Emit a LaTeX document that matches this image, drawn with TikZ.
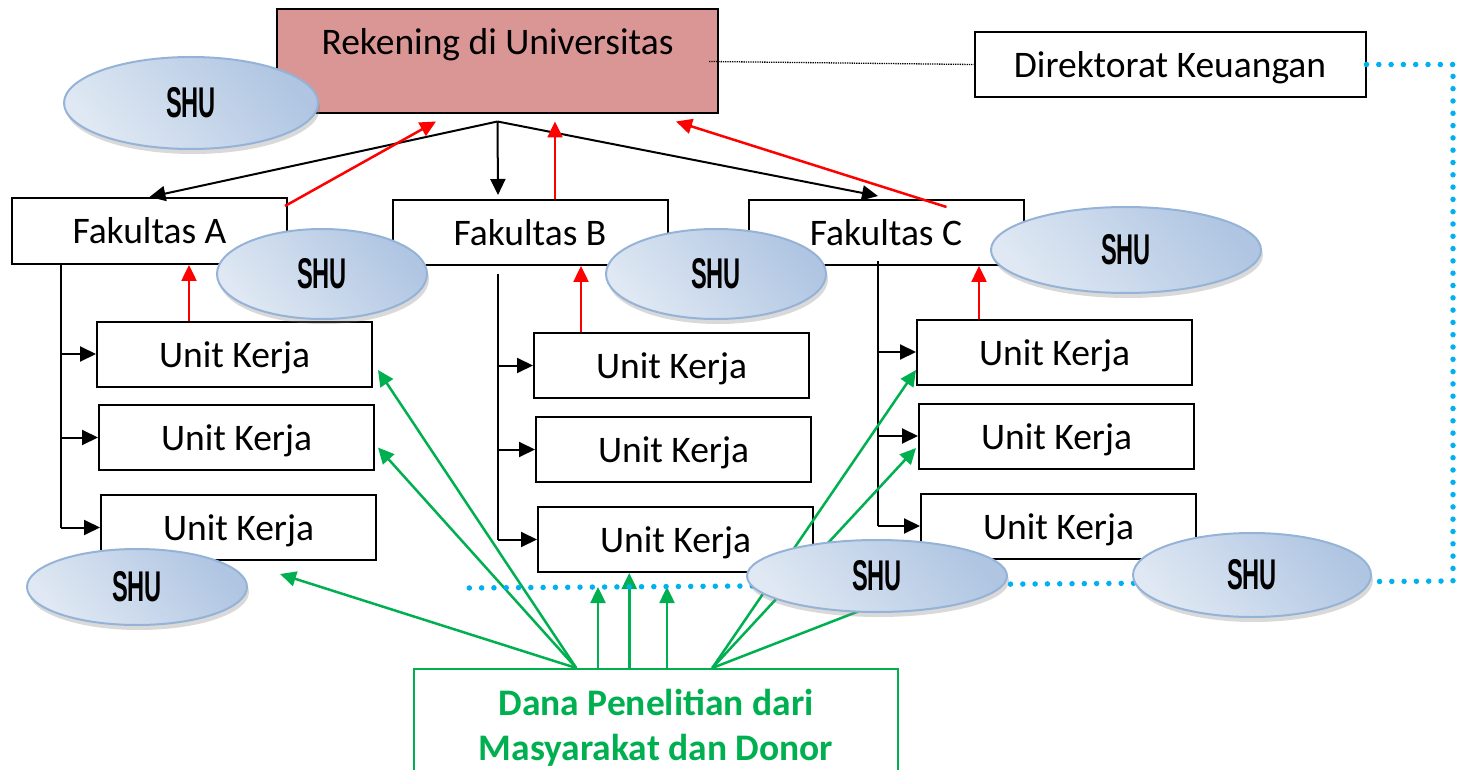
\documentclass[tikz,border=0pt]{standalone}
\usepackage{fontspec}
\setmainfont{Carlito}
\newfontfamily\shufont{Liberation Sans}
\usetikzlibrary{arrows.meta,calc,shapes.geometric,shadows}
\definecolor{rekfill}{HTML}{D99694}
\definecolor{shuline}{HTML}{95B3D7}
\definecolor{shulight}{HTML}{DFE8F3}
\definecolor{shudark}{HTML}{AFC5E2}
\definecolor{danagreen}{HTML}{00B050}
\definecolor{dotblue}{HTML}{00B0F0}
\tikzset{plainbox/.style={draw, line width=2pt, minimum width=275pt, minimum height=65pt, inner sep=0pt, text height=32pt, text depth=6pt, font=\fontsize{37.5}{45}\selectfont}}
\tikzset{shu/.style={ellipse, draw=shuline, line width=2pt, left color=shulight, right color=shudark, shading angle=130, inner sep=0pt, drop shadow={shadow xshift=2pt, shadow yshift=-5pt, opacity=0.3}, font=\shufont\bfseries\fontsize{43}{45}\selectfont}}
\tikzset{arr/.style={draw, -{Triangle[length=16pt,width=15pt]}, line width=2pt}}
\tikzset{redarr/.style={arr, red, line width=2.5pt}}
\tikzset{grnarr/.style={arr, danagreen, line width=2.5pt}}
\tikzset{bluedots/.style={dotblue, line width=5.5pt, line cap=round, dash pattern=on 0pt off 12.3pt}}
\newcommand{\shutext}{\scalebox{0.55}[1]{SHU}}

\begin{document}
\begin{tikzpicture}[x=1pt,y=-1pt]
	\useasboundingbox (0,0) rectangle (1460,770);
	\clip (0,0) rectangle (1460,770);
	
	\node[plainbox, fill=rekfill, minimum width=441pt, minimum height=104pt, text height=24pt, text depth=37pt] (Rek) at (497.5,61.5){Rekening di Universitas};
	\node[plainbox, minimum width=391pt] (Dk) at (1170,64.5){Direktorat Keuangan};
	
	\node[plainbox, minimum height=66pt] (FA) at (149.5,231){Fakultas A};
	\node[plainbox] (FB) at (530,232.5){Fakultas B};
	\node[plainbox] (FC) at (886,232.5){Fakultas C};
	
	\node[plainbox] (UA1) at (234.5,354){Unit Kerja};
	\node[plainbox] (UA2) at (236.5,437.5){Unit Kerja};
	\node[plainbox] (UA3) at (238.5,527.5){Unit Kerja};
	\node[plainbox] (UB1) at (671.5,365.5){Unit Kerja};
	\node[plainbox] (UB2) at (673.5,449.5){Unit Kerja};
	\node[plainbox] (UB3) at (675.5,539.5){Unit Kerja};
	\node[plainbox] (UC1) at (1054.5,352){Unit Kerja};
	\node[plainbox] (UC2) at (1056.5,436){Unit Kerja};
	\node[plainbox] (UC3) at (1058.5,526){Unit Kerja};
	
	\node[plainbox, draw=danagreen, line width=1.5pt, text=danagreen, text height=, text depth=, font=\bfseries\fontsize{37.5}{45}\selectfont, align=center, anchor=north, minimum width=484pt, inner ysep=20pt] (Dana) at (656,668){Dana Penelitian dari\\Masyarakat dan Donor};
	
	% Rekening ke fakultas
	\coordinate (apex) at ($(Rek.south)+(0,7)$);
	\coordinate (ta) at (61,0);
	\coordinate (tb) at (498,0);
	\coordinate (tc) at (878,0);
	\draw[arr] (apex) -- (FA.north);
	\draw[arr] (apex) -- ($(tb |- FB.north)+(0,-4)$);
	\draw[arr] (apex) -- ($(tc |- FC.north)+(0,-3)$);
	\draw[densely dotted, line width=1.3pt] ($(Rek.east)+(-10,0)$) -- (Dk.west);
	
	% fakultas ke unit kerja
	\draw[line width=2pt] (FA.south -| ta) -- (UA3.west -| ta);
	\draw[line width=2pt] ($(FB.south -| tb)+(0,8)$) -- (UB3.west -| tb);
	\draw[line width=2pt] ($(FC.south -| tc)+(0,-5)$) -- (UC3.west -| tc);
	\foreach \u in {UA1,UA2,UA3} \draw[arr] (\u.west -| ta) -- (\u.west);
	\foreach \u in {UB1,UB2,UB3} \draw[arr] (\u.west -| tb) -- (\u.west);
	\foreach \u in {UC1,UC2,UC3} \draw[arr] (\u.west -| tc) -- (\u.west);
	
	% aliran SHU
	\coordinate (ra) at (189,0);
	\coordinate (rb) at (581,0);
	\coordinate (rc) at (979,0);
	\draw[redarr] (UA1.north -| ra) -- (FA.south -| ra);
	\draw[redarr] (UB1.north -| rb) -- (FB.south -| rb);
	\draw[redarr] (UC1.north -| rc) -- (FC.south -| rc);
	\draw[redarr] ($(FA.north east)+(-3,9)$) -- ($(Rek.south west)+(160,7)$);
	\draw[redarr] ($(FB.north)+(25,0)$) -- ($(Rek.south)+(57.5,7)$);
	\draw[redarr] ($(FC.north east)+(-78,8)$) -- ($(Rek.south east)+(-43,7)$);
	
	% dana penelitian
	\coordinate (gL) at ($(Dana.north west)+(163,0)$);
	\coordinate (gR) at ($(Dana.north west)+(299,0)$);
	\coordinate (gm) at ($(Dana.north west)+(216,0)$);
	\coordinate (g1) at (598,587);
	\coordinate (g3) at (667,587);
	\draw[grnarr] (gL) -- ($(UA1.east)+(5,16)$);
	\draw[grnarr] (gL) -- ($(UA2.east)+(3,10)$);
	\draw[grnarr] (gL) -- ($(UA3.south)+(41.5,13)$);
	\draw[grnarr] (g1 |- Dana.north) -- (g1);
	\draw[grnarr] (gm) -- (UB3.south -| gm);
	\draw[grnarr] (g3 |- Dana.north) -- (g3);
	\draw[grnarr] (gR) -- ($(UC1.west)+(0,18)$);
	\draw[grnarr] (gR) -- ($(UC2.west)+(-2,12)$);
	\draw[grnarr] (gR) -- ($(UC3.south west)+(54,7)$);
	
	\coordinate (bR) at (1453,581);
	\coordinate (bL) at (463,588);
	\draw[bluedots] (Dk.east) -| (bR) -- (bL);
	
	\node[shu, minimum width=254pt, minimum height=92pt] (S1) at (191,103){\shutext};
	\node[shu, minimum width=210pt, minimum height=90pt] (S2) at (322,274){\shutext};
	\node[shu, minimum width=220pt, minimum height=90pt] (S3) at (716,274){\shutext};
	\node[shu, minimum width=270pt, minimum height=86pt] (S4) at (1126,250){\shutext};
	\node[shu, minimum width=220pt, minimum height=76pt] (S5) at (137,587){\shutext};
	\node[shu, minimum width=260pt, minimum height=72pt] (S6) at (877,576){\shutext};
	\node[shu, minimum width=238pt, minimum height=84pt] (S7) at (1252,575){\shutext};
\end{tikzpicture}
\end{document}
